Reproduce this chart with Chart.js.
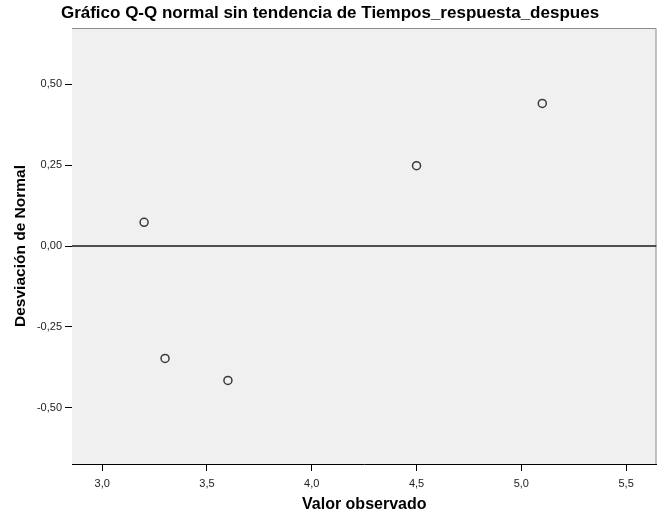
<!DOCTYPE html>
<html>
<head>
<meta charset="utf-8">
<script src="https://cdn.jsdelivr.net/npm/chart.js@4"></script>
<style>
    body { margin: 0; background: #fff; }
    #grafico { display: block; }
</style>
</head>
<body>
<canvas id="grafico" width="662" height="519"></canvas>
<script>
// valores observados y desviación respecto a la normal
const valoresObservados = [3.2, 3.3, 3.6, 4.5, 5.1];
const desviaciones = [0.073, -0.347, -0.415, 0.248, 0.44];

const ticksX = [3.0, 3.5, 4.0, 4.5, 5.0, 5.5];
const ticksY = [-0.50, -0.25, 0.00, 0.25, 0.50];

const limitesX = [2.856, 5.645];
const limitesY = [-0.673, 0.673];

const fuente = "'Liberation Sans', Arial, sans-serif";

/* fondo gris del área de trazado y borde superior/derecho */
const fondoArea = {
    id: 'fondoArea',
    beforeDatasetsDraw(chart) {
        const { ctx, chartArea: a } = chart;
        ctx.save();
        ctx.fillStyle = '#f0f0f0';
        ctx.fillRect(a.left, a.top, a.right - a.left, a.bottom - a.top);
        ctx.strokeStyle = '#8c8c8c';
        ctx.lineWidth = 1;
        ctx.beginPath();
        ctx.moveTo(a.left, a.top + 0.5);
        ctx.lineTo(a.right - 0.5, a.top + 0.5);
        ctx.lineTo(a.right - 0.5, a.bottom);
        ctx.stroke();
        ctx.restore();
    }
};

function coma(v, dec) {
    return v.toFixed(dec).replace('.', ',');
}

new Chart(document.getElementById('grafico'), {
    type: 'scatter',
    data: {
        datasets: [
            {
                // línea de referencia en cero
                type: 'line',
                data: [{ x: limitesX[0], y: 0 }, { x: limitesX[1], y: 0 }],
                borderColor: '#1a1a1a',
                borderWidth: 1.5,
                pointRadius: 0,
                order: 2
            },
            {
                data: valoresObservados.map((v, i) => ({ x: v, y: desviaciones[i] })),
                pointRadius: 4,
                pointBorderWidth: 1.5,
                borderColor: '#3a3a3a',
                backgroundColor: 'rgba(0,0,0,0)',
                order: 1
            }
        ]
    },
    options: {
        responsive: false,
        devicePixelRatio: 1,
        animation: false,
        layout: { padding: { left: 0, right: 2, top: 0, bottom: 0 } },
        plugins: {
            legend: { display: false },
            tooltip: { enabled: false },
            title: {
                display: true,
                text: 'Gráfico Q-Q normal sin tendencia de Tiempos_respuesta_despues',
                color: '#000',
                font: { family: fuente, size: 17, weight: 'bold' },
                padding: { top: 3, bottom: 4.6 }
            }
        },
        scales: {
            x: {
                type: 'linear',
                min: limitesX[0],
                max: limitesX[1],
                afterBuildTicks: s => { s.ticks = ticksX.map(v => ({ value: v })); },
                afterFit: s => { s.height = 55; },
                ticks: {
                    color: '#222',
                    font: { family: fuente, size: 11 },
                    padding: 6,
                    callback: v => coma(v, 1)
                },
                grid: {
                    drawOnChartArea: false,
                    drawTicks: true,
                    tickLength: 7,
                    color: '#000'
                },
                border: { display: true, color: '#000', width: 1 },
                title: {
                    display: true,
                    text: 'Valor observado',
                    color: '#000',
                    font: { family: fuente, size: 16, weight: 'bold' },
                    padding: { top: 0, bottom: 5 }
                }
            },
            y: {
                type: 'linear',
                min: limitesY[0],
                max: limitesY[1],
                afterBuildTicks: s => { s.ticks = ticksY.map(v => ({ value: v })); },
                afterFit: s => { s.width = 72; },
                ticks: {
                    color: '#222',
                    font: { family: fuente, size: 11 },
                    padding: 3,
                    callback: v => coma(v, 2)
                },
                grid: {
                    drawOnChartArea: false,
                    drawTicks: true,
                    tickLength: 7,
                    color: '#000'
                },
                border: { display: true, color: '#000', width: 1 },
                title: {
                    display: true,
                    text: 'Desviación de Normal',
                    color: '#000',
                    font: { family: fuente, size: 15.5, weight: 'bold' },
                    padding: { top: 11, bottom: 0 }
                }
            }
        }
    },
    plugins: [fondoArea]
});
</script>
</body>
</html>
